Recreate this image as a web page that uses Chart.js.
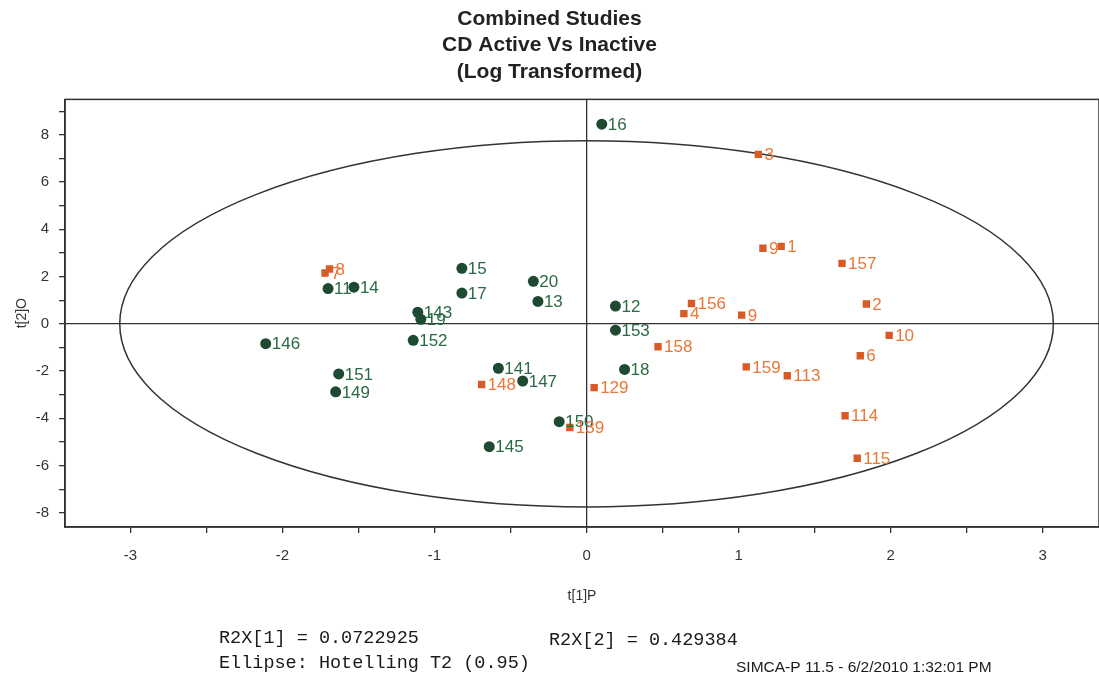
<!DOCTYPE html>
<html>
<head>
<meta charset="utf-8">
<title>Combined Studies - CD Active Vs Inactive</title>
<script src="https://cdn.jsdelivr.net/npm/chart.js@4/dist/chart.umd.min.js"></script>
<style>
  html, body { margin: 0; padding: 0; background: #fff; }
  #wrap { width: 1099px; height: 683px; }
</style>
</head>
<body>
<div id="wrap"><canvas id="scoreChart" width="1099" height="683"></canvas></div>
<script>
// active observations (circles)
const activeLabels = ['16', '15', '17', '20', '13', '11', '14', '143', '19', '146', '152', '151', '149', '141', '147', '12', '153', '18', '150', '145'];
const activeX = [0.10, -0.82, -0.82, -0.35, -0.32, -1.70, -1.53, -1.11, -1.09, -2.11, -1.14, -1.63, -1.65, -0.58, -0.42, 0.19, 0.19, 0.25, -0.18, -0.64];
const activeY = [8.45, 2.35, 1.30, 1.80, 0.95, 1.49, 1.55, 0.49, 0.19, -0.84, -0.70, -2.12, -2.88, -1.88, -2.42, 0.75, -0.27, -1.93, -4.14, -5.20];

// inactive observations (squares)
const inactiveLabels = ['3', '9', '1', '157', '156', '4', '9', '2', '10', '6', '158', '159', '113', '129', '148', '139', '114', '115', '7', '8'];
const inactiveX = [1.13, 1.16, 1.28, 1.68, 0.69, 0.64, 1.02, 1.84, 1.99, 1.80, 0.47, 1.05, 1.32, 0.05, -0.69, -0.11, 1.70, 1.78, -1.72, -1.69];
const inactiveY = [7.17, 3.20, 3.28, 2.56, 0.86, 0.43, 0.37, 0.84, -0.49, -1.35, -0.97, -1.82, -2.20, -2.70, -2.57, -4.39, -3.89, -5.69, 2.15, 2.32];

// Hotelling T2 (0.95) ellipse semi-axes
const ellipseA = 3.07;
const ellipseB = 7.75;

const footerLines = [
    'R2X[1] = 0.0722925',
    'R2X[2] = 0.429384',
    'Ellipse: Hotelling T2 (0.95)',
    'SIMCA-P 11.5 - 6/2/2010 1:32:01 PM'
];

const GREEN = '#1d4a31';
const GREEN_TEXT = '#2a6a45';
const ORANGE = '#d85a26';
const ORANGE_TEXT = '#ec7636';

function toPoints(xs, ys) {
    return xs.map((x, i) => ({ x: x, y: ys[i] }));
}

const ellipsePlugin = {
    id: 'ellipse',
    beforeDatasetsDraw(chart) {
        const { ctx, scales: { x, y } } = chart;
        const cx = x.getPixelForValue(0);
        const cy = y.getPixelForValue(0);
        const rx = x.getPixelForValue(ellipseA) - cx;
        const ry = cy - y.getPixelForValue(ellipseB);
        ctx.save();
        ctx.strokeStyle = '#333';
        ctx.lineWidth = 1.5;
        ctx.beginPath();
        ctx.ellipse(cx, cy, rx, ry, 0, 0, Math.PI * 2);
        ctx.stroke();
        ctx.restore();
    }
};

const framePlugin = {
    id: 'frame',
    afterDraw(chart) {
        const { ctx, chartArea: a } = chart;
        ctx.save();
        ctx.strokeStyle = '#333';
        ctx.lineWidth = 1.5;
        ctx.strokeRect(a.left, a.top, a.right - a.left, a.bottom - a.top);
        ctx.restore();
    }
};

const pointLabels = {
    id: 'pointLabels',
    afterDatasetsDraw(chart) {
        const ctx = chart.ctx;
        ctx.save();
        ctx.font = '17px "Liberation Sans", Arial, sans-serif';
        ctx.textBaseline = 'middle';
        ctx.textAlign = 'left';
        chart.data.datasets.forEach((ds, i) => {
            const meta = chart.getDatasetMeta(i);
            ctx.fillStyle = ds.labelColor;
            meta.data.forEach((pt, j) => {
                ctx.fillText(ds.names[j], pt.x + 6, pt.y + 1);
            });
        });
        ctx.restore();
    }
};

const footerPlugin = {
    id: 'footerText',
    afterDraw(chart) {
        const ctx = chart.ctx;
        ctx.save();
        ctx.fillStyle = '#1a1a1a';
        ctx.textBaseline = 'middle';
        ctx.font = '18.5px "Liberation Mono", "DejaVu Sans Mono", monospace';
        ctx.fillText(footerLines[0], 219, 638);
        ctx.fillText(footerLines[1], 549, 640);
        ctx.fillText(footerLines[2], 219, 663);
        ctx.font = '15.5px "Liberation Sans", Arial, sans-serif';
        ctx.fillText(footerLines[3], 736, 668);
        ctx.restore();
    }
};

const tickFont = { family: '"Liberation Sans", Arial, sans-serif', size: 15 };

new Chart(document.getElementById('scoreChart'), {
    type: 'scatter',
    data: {
        datasets: [
            {
                label: 'Active',
                data: toPoints(activeX, activeY),
                names: activeLabels,
                labelColor: GREEN_TEXT,
                pointStyle: 'circle',
                pointRadius: 5.5,
                backgroundColor: GREEN,
                borderColor: GREEN,
                borderWidth: 0
            },
            {
                label: 'Inactive',
                data: toPoints(inactiveX, inactiveY),
                names: inactiveLabels,
                labelColor: ORANGE_TEXT,
                pointStyle: 'rect',
                pointRadius: 5.2,
                backgroundColor: ORANGE,
                borderColor: ORANGE,
                borderWidth: 0
            }
        ]
    },
    options: {
        responsive: false,
        animation: false,
        layout: { autoPadding: false, padding: { top: 0, right: 0, bottom: 78, left: 0 } },
        plugins: {
            legend: { display: false },
            tooltip: { enabled: false },
            title: {
                display: true,
                text: ['Combined Studies', 'CD Active Vs Inactive', '(Log Transformed)'],
                color: '#222',
                font: { family: '"Liberation Sans", Arial, sans-serif', size: 21, weight: 'bold', lineHeight: 1.26 },
                padding: { top: 6, bottom: 14 }
            }
        },
        scales: {
            x: {
                type: 'linear',
                min: -3.43,
                max: 3.37,
                afterFit(scale) { scale.height = 78; },
                afterBuildTicks(scale) {
                    const t = [];
                    for (let v = -3; v <= 3.001; v += 0.5) t.push({ value: Math.round(v * 10) / 10 });
                    scale.ticks = t;
                },
                ticks: {
                    color: '#333',
                    font: tickFont,
                    padding: 14,
                    maxRotation: 0,
                    autoSkip: false,
                    callback: v => Number.isInteger(v) ? String(v) : ''
                },
                grid: {
                    drawOnChartArea: true,
                    color: c => (c.tick && c.tick.value === 0) ? '#333' : 'rgba(0,0,0,0)',
                    lineWidth: 1.3,
                    tickColor: '#333',
                    tickLength: 6
                },
                border: { display: true, color: '#333', width: 1.5 },
                title: {
                    display: true,
                    text: 't[1]P',
                    color: '#333',
                    font: { family: '"Liberation Sans", Arial, sans-serif', size: 14 },
                    padding: { top: 8, bottom: 0 }
                }
            },
            y: {
                type: 'linear',
                min: -8.6,
                max: 9.5,
                afterFit(scale) { scale.width = 65; },
                afterBuildTicks(scale) {
                    const t = [];
                    for (let v = -8; v <= 9; v++) t.push({ value: v });
                    scale.ticks = t;
                },
                ticks: {
                    color: '#333',
                    font: tickFont,
                    padding: 10,
                    autoSkip: false,
                    callback: v => (v % 2 === 0) ? String(v) : ''
                },
                grid: {
                    drawOnChartArea: true,
                    color: c => (c.tick && c.tick.value === 0) ? '#333' : 'rgba(0,0,0,0)',
                    lineWidth: 1.3,
                    tickColor: '#333',
                    tickLength: 6
                },
                border: { display: true, color: '#333', width: 1.5 },
                title: {
                    display: true,
                    text: 't[2]O',
                    color: '#333',
                    font: { family: '"Liberation Sans", Arial, sans-serif', size: 14 },
                    padding: { top: 14, bottom: 4 }
                }
            }
        }
    },
    plugins: [ellipsePlugin, pointLabels, framePlugin, footerPlugin]
});
</script>
</body>
</html>
